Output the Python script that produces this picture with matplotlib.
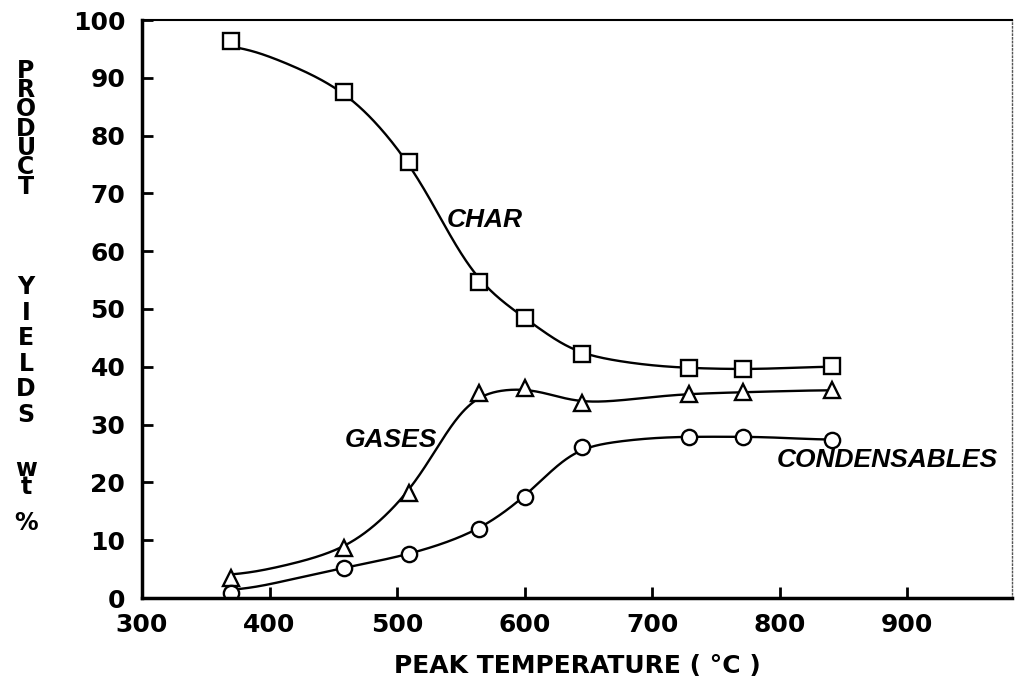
import numpy as np
import matplotlib.pyplot as plt

# peak temperature (C) and yields (wt %)
temps = [370, 458, 509, 564, 600, 645, 729, 771, 841]
char = [96.4, 87.5, 75.4, 54.7, 48.5, 42.2, 39.8, 39.6, 40.1]
gases = [3.5, 8.7, 18.2, 35.4, 36.3, 33.8, 35.3, 35.6, 36.0]
condensables = [0.9, 5.2, 7.6, 11.9, 17.5, 26.1, 27.9, 27.9, 27.3]

xticks = [300, 400, 500, 600, 700, 800, 900]
yticks = [0, 10, 20, 30, 40, 50, 60, 70, 80, 90, 100]


def pchip(x, y, xs):
    # monotone cubic (Fritsch-Carlson) through the points
    x = np.asarray(x, float)
    y = np.asarray(y, float)
    h = np.diff(x)
    d = np.diff(y) / h
    m = np.zeros_like(y)
    for k in range(1, len(x) - 1):
        if d[k - 1] * d[k] > 0:
            w1 = 2 * h[k] + h[k - 1]
            w2 = h[k] + 2 * h[k - 1]
            m[k] = (w1 + w2) / (w1 / d[k - 1] + w2 / d[k])
    m[0] = d[0]
    m[-1] = d[-1]
    i = np.clip(np.searchsorted(x, xs) - 1, 0, len(x) - 2)
    t = (xs - x[i]) / h[i]
    h00 = 2 * t**3 - 3 * t**2 + 1
    h10 = t**3 - 2 * t**2 + t
    h01 = -2 * t**3 + 3 * t**2
    h11 = t**3 - t**2
    return h00 * y[i] + h10 * h[i] * m[i] + h01 * y[i + 1] + h11 * h[i] * m[i + 1]


def smooth_curve(x, y, xs, sigma=14.0):
    # soften the kinks, like a hand drawn french-curve fit
    ys = pchip(x, y, xs)
    dx = xs[1] - xs[0]
    n = int(3 * sigma / dx)
    k = np.exp(-0.5 * (np.arange(-n, n + 1) * dx / sigma) ** 2)
    num = np.convolve(ys, k, mode='same')
    den = np.convolve(np.ones_like(ys), k, mode='same')
    return num / den


fig = plt.figure(figsize=(10.27, 6.85), dpi=100)
ax = fig.add_axes([142 / 1027, 1 - 598 / 685, 870 / 1027, 578 / 685])

xs = np.linspace(temps[0], temps[-1], 600)
for vals, mk in [(char, 's'), (gases, '^'), (condensables, 'o')]:
    ax.plot(xs, smooth_curve(temps, vals, xs), color='black', lw=1.7)
    ax.plot(temps, vals, linestyle='none', marker=mk, markersize=11,
            markerfacecolor='white', markeredgecolor='black', markeredgewidth=1.7)

lab = dict(fontsize=19, fontweight='bold', fontstyle='italic',
           family=['Liberation Sans', 'DejaVu Sans'], ha='center', va='center')
ax.text(569, 65.4, 'CHAR', **lab)
ax.text(495, 27.3, 'GASES', **lab)
ax.text(884, 23.9, 'CONDENSABLES', **lab)

ax.set_xlim(300, 982)
ax.set_ylim(0, 100)
ax.set_xticks(xticks)
ax.set_yticks(yticks)
ax.tick_params(direction='in', length=8, width=2, labelsize=18)
ax.tick_params(axis='x', pad=11)
ax.tick_params(axis='y', pad=12)
for t in ax.get_xticklabels() + ax.get_yticklabels():
    t.set_fontweight('bold')

ax.spines['left'].set_linewidth(2.5)
ax.spines['bottom'].set_linewidth(2.5)
ax.spines['top'].set_linewidth(1.5)
ax.spines['right'].set_linewidth(1)
ax.spines['right'].set_linestyle(':')
ax.spines['right'].set_color('#555555')

ax.set_xlabel('PEAK TEMPERATURE ( °C )', fontsize=18, fontweight='bold', labelpad=12)

# stacked upright letters for the y axis title, one text block per word
for word, top, spacing in [('PRODUCT', 59, 0.75), ('YIELDS', 275, 1.08), ('wt', 457, 0.7), ('%', 511, 1.0)]:
    fig.text(26 / 1027, 1 - top / 685, '\n'.join(word), fontsize=17, fontweight='bold',
             ha='center', va='top', multialignment='center', linespacing=spacing)

fig.savefig('out.png', dpi=100)
